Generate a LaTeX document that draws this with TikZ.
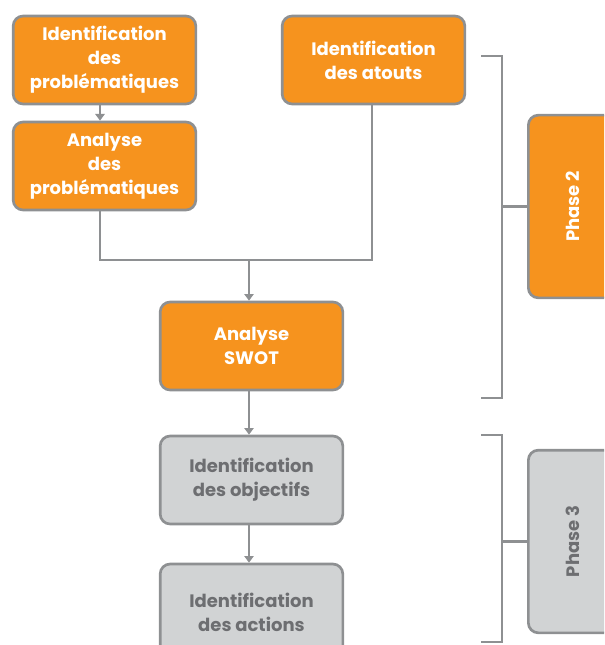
\documentclass[tikz,border=0pt]{standalone}
\usepackage{fontspec}
\setmainfont{Poppins}
\usetikzlibrary{arrows.meta}

\definecolor{orangebox}{RGB}{246,147,30}
\definecolor{greybox}{RGB}{209,211,212}
\definecolor{greytext}{RGB}{109,110,113}
\definecolor{lineclr}{RGB}{142,144,146}

\tikzset{every picture/.style={line width=0.75pt}}
\tikzset{
	stepbox/.style={draw=lineclr, line width=2pt, rounded corners=7.5pt, minimum width=137pt, minimum height=66pt, align=center, font=\bfseries\fontsize{13.5}{18}\selectfont, inner sep=2pt},
	orangestep/.style={stepbox, fill=orangebox, text=white},
	greystep/.style={stepbox, fill=greybox, text=greytext},
	phasebox/.style={draw=lineclr, line width=2pt, rounded corners=7.5pt, minimum width=137pt, minimum height=67pt, font=\bfseries\fontsize{13.5}{18}\selectfont, rotate=90},
	link/.style={draw=lineclr, line width=2pt},
	arrowlink/.style={link, -{Triangle[width=7pt,length=5pt]}},
}

\begin{document}
\begin{tikzpicture}[x=0.75pt,y=0.75pt,yscale=-1,xscale=1]
	\clip (0,0) rectangle (604,645);
	
	% Phase 2 steps
	\node [orangestep] (probid) at (104.5,60) {Identification\\des\\problématiques};
	\node [orangestep] (probana) at (104.5,166) {Analyse\\des\\problématiques};
	\node [orangestep] (atouts) at (373.5,60) {Identification\\des atouts};
	\node [orangestep] (swot) at (251.5,346) {Analyse\\SWOT};
	% Phase 3 steps
	\node [greystep] (objectifs) at (251.5,480) {Identification\\des objectifs};
	\node [greystep, minimum height=72pt] (actions) at (251.5,612) {Identification\\des actions};
	
	% Phase labels
	\node [phasebox, fill=orangebox, text=white] (phase2) at (573,206.5) {Phase 2};
	\node [phasebox, fill=greybox, text=greytext] (phase3) at (573,541.5) {Phase 3};
	
	% Links
	\coordinate (join) at (249,260);
	\draw [arrowlink] (probid.south -| 100,0) -- (probana.north -| 100,0);
	\draw [link] (probana.south -| 100,0) |- (join);
	\draw [link] (atouts.south -| 372,0) |- (join);
	\draw [arrowlink] (join) -- (swot.north -| join);
	\draw [arrowlink] (swot.south -| join) -- (objectifs.north -| join);
	\draw [arrowlink] (objectifs.south -| join) -- (actions.north -| join);
	
	% Brackets
	\coordinate (brack2) at (502,206.5);
	\coordinate (brack3) at (502,541.5);
	\draw [link] (481,56) -- (502,56) -- (502,398) -- (481,398);
	\draw [link] (brack2) -- (phase2.north);
	\draw [link] (481,435) -- (502,435) -- (502,642) -- (481,642);
	\draw [link] (brack3) -- (phase3.north);
	
\end{tikzpicture}
\end{document}
